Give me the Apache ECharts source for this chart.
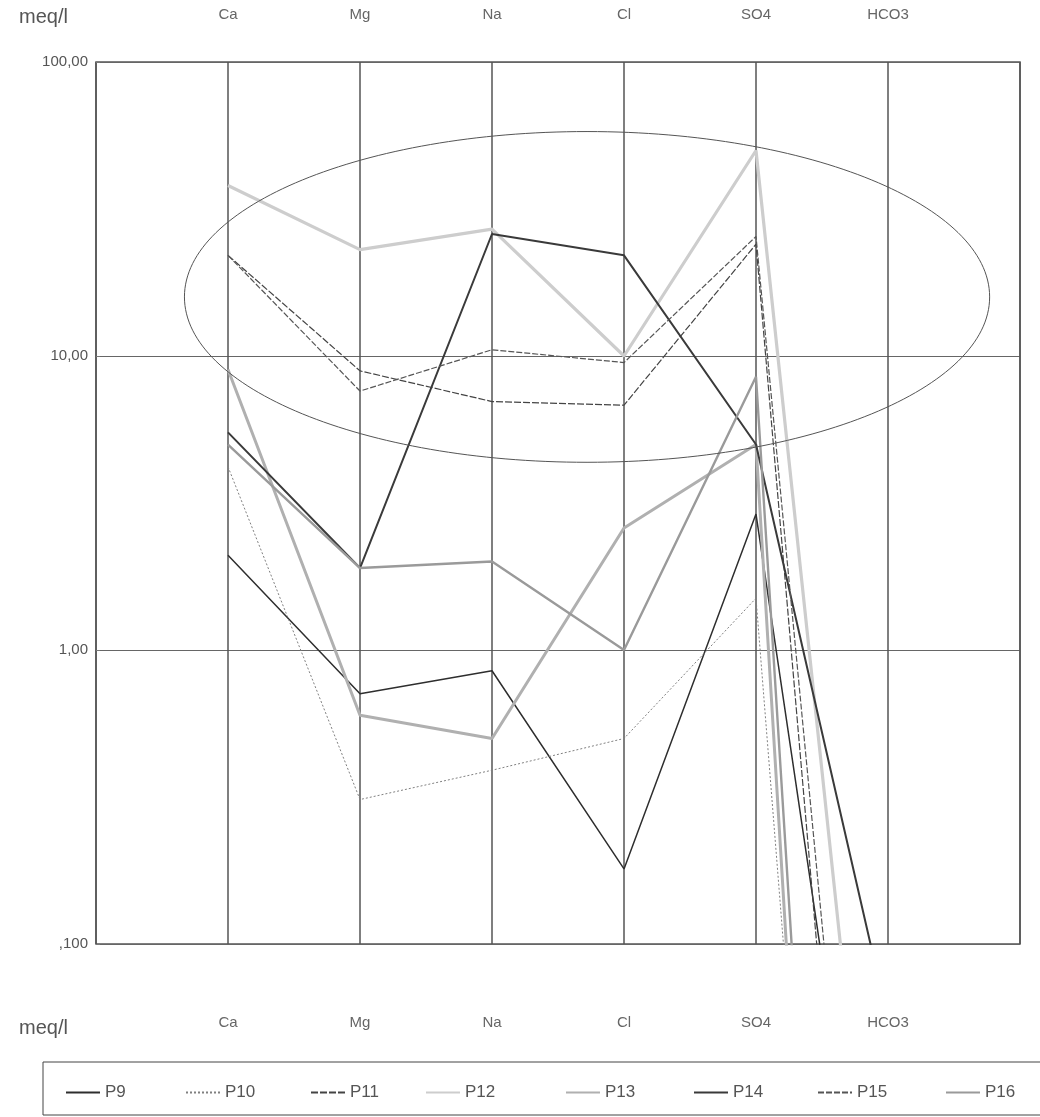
<!DOCTYPE html>
<html>
<head>
<meta charset="utf-8">
<script src="https://cdn.jsdelivr.net/npm/echarts@6/dist/echarts.min.js"></script>
<style>
html,body{margin:0;padding:0;background:#fff;}
#chart{width:1040px;height:1117px;}
</style>
</head>
<body>
<div id="chart"></div>
<script>
// ---- data ----
const categories = ['', 'Ca', 'Mg', 'Na', 'Cl', 'SO4', 'HCO3', ''];
const seriesNames = ['P9', 'P10', 'P11', 'P12', 'P13', 'P14', 'P15', 'P16'];
// values for Ca, Mg, Na, Cl, SO4, HCO3 (meq/l)
const P9  = [2.1, 0.71, 0.85, 0.18, 2.9, 0.0027];
const P10 = [4.2, 0.31, 0.39, 0.5, 1.5, 0.0000033];
const P11 = [22, 8.9, 7.0, 6.8, 24, 0.00016];
const P12 = [38, 23, 27, 10, 50, 0.003];
const P13 = [9.0, 0.6, 0.5, 2.6, 5.0, 0.0000002];
const P14 = [5.5, 1.9, 26, 22, 5.0, 0.055];
const P15 = [22, 7.6, 10.5, 9.5, 25.5, 0.00054];
const P16 = [5.0, 1.9, 2.0, 1.0, 8.5, 0.0000006];
const yTickValues = [0.1, 1, 10, 100];
const yTickLabels = [',100', '1,00', '10,00', '100,00'];
const unitLabel = 'meq/l';
// ellipse annotation (category-index span and value span)
const ellipseX = [0.67, 6.77];
const ellipseY = [4.35, 58];

const seriesValues = [P9, P10, P11, P12, P13, P14, P15, P16];
const styles = [
  {color: '#2e2e2e', width: 1.5, type: 'solid'},
  {color: '#808080', width: 1, type: [2, 2]},
  {color: '#444444', width: 1.2, type: [7, 2]},
  {color: '#cdcdcd', width: 3.2, type: 'solid'},
  {color: '#b0b0b0', width: 3, type: 'solid'},
  {color: '#3a3a3a', width: 2, type: 'solid'},
  {color: '#555555', width: 1.2, type: [6, 2]},
  {color: '#9a9a9a', width: 2.4, type: 'solid'}
];
const legendLefts = [60, 180, 305, 420, 560, 688, 812, 940];

const font = 'Liberation Sans, Arial, sans-serif';
const chart = echarts.init(document.getElementById('chart'), null, {renderer: 'canvas'});

const option = {
  backgroundColor: '#ffffff',
  animation: false,
  title: [
    {text: unitLabel, left: 14, top: 2, textStyle: {fontFamily: font, fontSize: 20, fontWeight: 'normal', color: '#555'}},
    {text: unitLabel, left: 14, top: 1013, textStyle: {fontFamily: font, fontSize: 20, fontWeight: 'normal', color: '#555'}}
  ],
  grid: {left: 96, right: 20, top: 62, bottom: 173, show: true, borderColor: '#555', borderWidth: 1.5},
  xAxis: [
    {
      type: 'category', data: categories, boundaryGap: false, position: 'bottom',
      axisLine: {show: false}, axisTick: {show: false},
      axisLabel: {interval: 0, margin: 71, fontFamily: font, fontSize: 15, color: '#666'},
      splitLine: {show: true, interval: 0, lineStyle: {color: '#555', width: 1.5}}
    },
    {
      type: 'category', data: categories, boundaryGap: false, position: 'top',
      axisLine: {show: false}, axisTick: {show: false},
      axisLabel: {interval: 0, margin: 40, fontFamily: font, fontSize: 15, color: '#666'},
      splitLine: {show: false}
    }
  ],
  yAxis: {
    type: 'log', logBase: 10, min: 0.1, max: 100, splitNumber: 3,
    axisLine: {show: false}, axisTick: {show: true, inside: true, length: 4, lineStyle: {color: '#777'}},
    axisLabel: {
      fontFamily: font, fontSize: 15, color: '#555', margin: 8,
      formatter: function (v) {
        let best = 0;
        for (let i = 0; i < yTickValues.length; i++) {
          if (Math.abs(Math.log10(v) - Math.log10(yTickValues[i])) < Math.abs(Math.log10(v) - Math.log10(yTickValues[best]))) best = i;
        }
        return yTickLabels[best];
      }
    },
    splitLine: {show: true, lineStyle: {color: '#666', width: 1.2}}
  },
  legend: seriesNames.map((n, i) => ({
    data: [n], left: legendLefts[i], top: 1079, itemWidth: 34, itemHeight: 12, itemGap: 4,
    itemStyle: {opacity: 0},
    textStyle: {fontFamily: font, fontSize: 17, color: '#555'}
  })),
  series: seriesNames.map((n, i) => ({
    name: n, type: 'line', symbol: 'none', clip: true,
    data: [null].concat(seriesValues[i]).concat([null]),
    lineStyle: {color: styles[i].color, width: styles[i].width, type: styles[i].type},
    itemStyle: {color: styles[i].color},
    connectNulls: false
  }))
};
chart.setOption(option);

// ellipse annotation positioned through the axes
const xa = chart.convertToPixel({xAxisIndex: 0}, 0);
const xb = chart.convertToPixel({xAxisIndex: 0}, 7);
const stepPx = (xb - xa) / 7;
const ex0 = xa + ellipseX[0] * stepPx, ex1 = xa + ellipseX[1] * stepPx;
const eyTop = chart.convertToPixel({yAxisIndex: 0}, ellipseY[1]);
const eyBot = chart.convertToPixel({yAxisIndex: 0}, ellipseY[0]);

chart.setOption({
  graphic: [
    {
      type: 'ellipse', silent: true, z: 10,
      shape: {cx: (ex0 + ex1) / 2, cy: (eyTop + eyBot) / 2, rx: (ex1 - ex0) / 2, ry: (eyBot - eyTop) / 2},
      style: {fill: 'none', stroke: '#555', lineWidth: 1}
    },
    {
      type: 'rect', silent: true, z: 0,
      shape: {x: 43, y: 1062, width: 1010, height: 53},
      style: {fill: 'none', stroke: '#444', lineWidth: 1}
    }
  ]
});
</script>
</body>
</html>
